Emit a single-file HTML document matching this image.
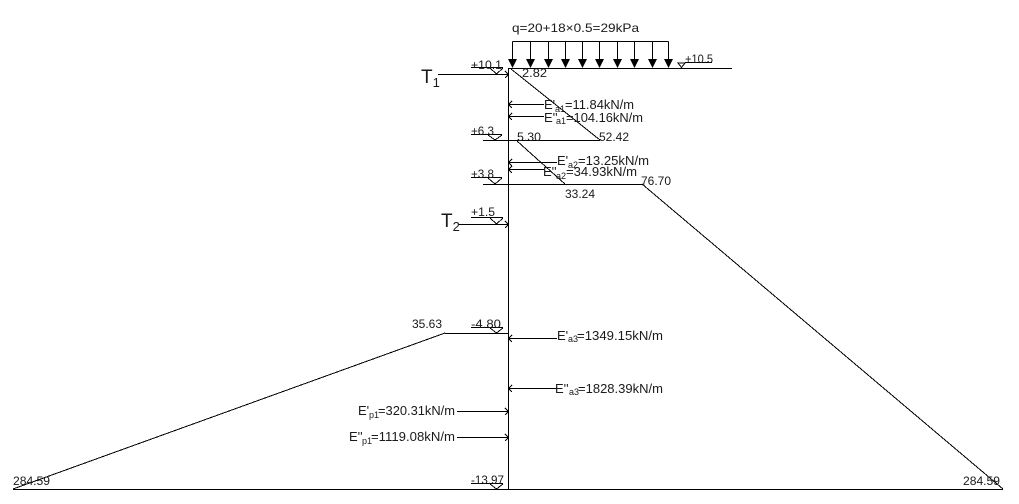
<!DOCTYPE html>
<html><head><meta charset="utf-8"><style>
html,body{margin:0;padding:0;background:#fff;width:1019px;height:504px;overflow:hidden}
svg{display:block}
text{font-family:"Liberation Sans",Arial,sans-serif;font-size:12px;fill:#1a1a1a}
.m{font-size:13px}
.s{font-size:9px}
.t{font-size:19px}
.u{font-size:13px}
</style></head><body>
<svg width="1019" height="504" viewBox="0 0 1019 504" xmlns="http://www.w3.org/2000/svg">
<g stroke="#000" stroke-width="1" fill="none" shape-rendering="crispEdges">
<!-- wall -->
<path d="M508.5 69V490"/>
<!-- levels -->
<path d="M508 68.5H732M483 140.5H600M483 184.5H642M445 333.5H508M13 489.5H1003"/>
<!-- surcharge -->
<path d="M512.5 41.5H668.5M512.5 41.5V59M530.5 41.5V59M548.5 41.5V59M565.5 41.5V59M582.5 41.5V59M599.5 41.5V59M617.5 41.5V59M634.5 41.5V59M652.5 41.5V59M668.5 41.5V59"/>
<!-- pressure diagonals -->
<path d="M511 69L600 140M517 141L565 184M642 184L1003 489M445 333L13 489"/>
<!-- elevation marks -->
<path d="M471 67.5H503M490 68L496.5 74L503 68"/>
<path d="M685 62.5H712M678 63H685L681.5 67.5Z"/>
<path d="M471 134.5H502M488 135L495 140L502 135"/>
<path d="M471 177.5H502M488 178L495 184L502 178"/>
<path d="M471 217.5H503M490 218L496.5 224L503 218"/>
<path d="M471 327.5H503M490 328L496.5 333L503 328"/>
<path d="M471 483.5H503M490 484L496.5 489L503 484"/>
<!-- anchor & force arrows -->
<path d="M438 74.5H508M505 71L508.5 74.5L505 78"/>
<path d="M458 224.5H508M505 221L508.5 224.5L505 228"/>
<path d="M544 104.5H509M512 101L508.5 104.5L512 108"/>
<path d="M544 116.5H509M512 113L508.5 116.5L512 120"/>
<path d="M557 162.5H509M512 159L508.5 162.5L512 166"/>
<path d="M544 169.5H509M512 166L508.5 169.5L512 173"/>
<path d="M557 338.5H509M512 335L508.5 338.5L512 342"/>
<path d="M557 388.5H509M512 385L508.5 388.5L512 392"/>
<path d="M457 411.5H508M505 408L508.5 411.5L505 415"/>
<path d="M457 437.5H508M505 434L508.5 437.5L505 441"/>
</g>
<g fill="#000">
<path d="M508 59H517L512.5 68Z"/><path d="M526 59H535L530.5 68Z"/><path d="M544 59H553L548.5 68Z"/><path d="M561 59H570L565.5 68Z"/><path d="M578 59H587L582.5 68Z"/><path d="M595 59H604L599.5 68Z"/><path d="M613 59H622L617.5 68Z"/><path d="M630 59H639L634.5 68Z"/><path d="M648 59H657L652.5 68Z"/><path d="M664 59H673L668.5 68Z"/>
</g>
<text x="512" y="32" textLength="127" lengthAdjust="spacingAndGlyphs">q=20+18×0.5=29kPa</text>
<text x="471" y="69" textLength="31" lengthAdjust="spacingAndGlyphs">+10.1</text>
<text x="685" y="63" textLength="28" lengthAdjust="spacingAndGlyphs">+10.5</text>
<text class="t" x="421" y="83">T<tspan class="u" dy="4">1</tspan></text>
<text x="522" y="77" textLength="25" lengthAdjust="spacingAndGlyphs">2.82</text>

<text class="m" x="544" y="109">E'</text><text class="s" x="555" y="112">a1</text><text class="m" x="565" y="109" textLength="69" lengthAdjust="spacingAndGlyphs">=11.84kN/m</text>
<text class="m" x="544" y="122">E''</text><text class="s" x="556" y="124">a1</text><text class="m" x="566" y="122" textLength="77" lengthAdjust="spacingAndGlyphs">=104.16kN/m</text>

<text x="471" y="135" textLength="23" lengthAdjust="spacingAndGlyphs">+6.3</text>
<text x="517" y="141" textLength="24" lengthAdjust="spacingAndGlyphs">5.30</text>
<text x="599" y="141" textLength="30" lengthAdjust="spacingAndGlyphs">52.42</text>

<text class="m" x="557" y="165">E'</text><text class="s" x="568" y="168">a2</text><text class="m" x="578" y="165" textLength="71" lengthAdjust="spacingAndGlyphs">=13.25kN/m</text>
<text class="m" x="543" y="176">E''</text><text class="s" x="556" y="179">a2</text><text class="m" x="566" y="176" textLength="71" lengthAdjust="spacingAndGlyphs">=34.93kN/m</text>

<text x="471" y="178" textLength="23" lengthAdjust="spacingAndGlyphs">+3.8</text>
<text x="641" y="185" textLength="30" lengthAdjust="spacingAndGlyphs">76.70</text>
<text x="565" y="198" textLength="30" lengthAdjust="spacingAndGlyphs">33.24</text>
<text x="471" y="216" textLength="24" lengthAdjust="spacingAndGlyphs">+1.5</text>
<text class="t" x="441" y="227">T<tspan class="u" dy="4">2</tspan></text>
<text x="412" y="328" textLength="30" lengthAdjust="spacingAndGlyphs">35.63</text>
<text x="471" y="328" textLength="30" lengthAdjust="spacingAndGlyphs">-4.80</text>

<text class="m" x="557" y="340">E'</text><text class="s" x="568" y="342">a3</text><text class="m" x="577" y="340" textLength="86" lengthAdjust="spacingAndGlyphs">=1349.15kN/m</text>
<text class="m" x="555" y="393">E''</text><text class="s" x="569" y="395">a3</text><text class="m" x="578" y="393" textLength="85" lengthAdjust="spacingAndGlyphs">=1828.39kN/m</text>
<text class="m" x="358" y="415">E'</text><text class="s" x="369" y="418">p1</text><text class="m" x="378" y="415" textLength="77" lengthAdjust="spacingAndGlyphs">=320.31kN/m</text>
<text class="m" x="349" y="441">E''</text><text class="s" x="362" y="444">p1</text><text class="m" x="371" y="441" textLength="84" lengthAdjust="spacingAndGlyphs">=1119.08kN/m</text>

<text x="471" y="484" textLength="33" lengthAdjust="spacingAndGlyphs">-13.97</text>
<text x="13" y="485" textLength="37" lengthAdjust="spacingAndGlyphs">284.59</text>
<text x="963" y="485" textLength="37" lengthAdjust="spacingAndGlyphs">284.59</text>
</svg>
</body></html>
